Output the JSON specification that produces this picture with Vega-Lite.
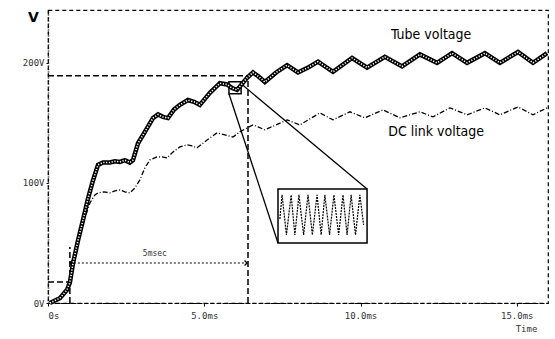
{
  "$schema": "https://vega.github.io/schema/vega-lite/v6.json",
  "width": 500,
  "height": 293,
  "autosize": {"type": "none"},
  "padding": {"left": 48, "top": 10, "right": 7, "bottom": 36},
  "background": "white",
  "config": {
    "view": {"stroke": "black", "strokeDash": [4, 3], "strokeWidth": 1.2},
    "font": "DejaVu Sans Mono"
  },
  "datasets": {
    "tube": [
      {"t": 0.06, "v": 0}, {"t": 0.38, "v": 4}, {"t": 0.61, "v": 11}, {"t": 0.70, "v": 17},
      {"t": 0.80, "v": 33}, {"t": 0.96, "v": 52}, {"t": 1.12, "v": 69}, {"t": 1.28, "v": 87},
      {"t": 1.44, "v": 102}, {"t": 1.60, "v": 115}, {"t": 1.76, "v": 117}, {"t": 1.98, "v": 117},
      {"t": 2.14, "v": 118}, {"t": 2.30, "v": 117.5}, {"t": 2.46, "v": 119}, {"t": 2.62, "v": 117},
      {"t": 2.72, "v": 119}, {"t": 2.88, "v": 133}, {"t": 3.10, "v": 142.5}, {"t": 3.36, "v": 154},
      {"t": 3.52, "v": 157}, {"t": 3.68, "v": 155}, {"t": 3.84, "v": 154}, {"t": 4.03, "v": 161},
      {"t": 4.22, "v": 165}, {"t": 4.48, "v": 169}, {"t": 4.67, "v": 167.5}, {"t": 4.86, "v": 165},
      {"t": 5.02, "v": 170}, {"t": 5.18, "v": 175}, {"t": 5.50, "v": 183}, {"t": 5.73, "v": 182},
      {"t": 5.89, "v": 179}, {"t": 6.05, "v": 177.5}, {"t": 6.21, "v": 182.5}, {"t": 6.37, "v": 187.5},
      {"t": 6.56, "v": 192}, {"t": 6.72, "v": 189}, {"t": 6.94, "v": 184}, {"t": 7.30, "v": 192},
      {"t": 7.65, "v": 198}, {"t": 8.00, "v": 192}, {"t": 8.32, "v": 196}, {"t": 8.64, "v": 201},
      {"t": 9.12, "v": 192.5}, {"t": 9.73, "v": 204}, {"t": 10.21, "v": 196}, {"t": 10.78, "v": 205},
      {"t": 11.33, "v": 197}, {"t": 11.90, "v": 207}, {"t": 12.45, "v": 200}, {"t": 12.93, "v": 208},
      {"t": 13.41, "v": 200}, {"t": 13.98, "v": 208}, {"t": 14.46, "v": 200}, {"t": 15.04, "v": 209},
      {"t": 15.52, "v": 200}, {"t": 15.97, "v": 208}
    ],
    "dc": [
      {"t": 0.06, "v": 0}, {"t": 0.38, "v": 4.2}, {"t": 0.61, "v": 10.8}, {"t": 0.70, "v": 16.7},
      {"t": 0.80, "v": 33.3}, {"t": 0.96, "v": 50}, {"t": 1.15, "v": 68.3}, {"t": 1.34, "v": 83.3},
      {"t": 1.50, "v": 90}, {"t": 1.60, "v": 91.7}, {"t": 1.79, "v": 92.5}, {"t": 1.98, "v": 91.7},
      {"t": 2.14, "v": 93.3}, {"t": 2.30, "v": 94.2}, {"t": 2.46, "v": 92.5}, {"t": 2.62, "v": 91.7},
      {"t": 2.78, "v": 95.8}, {"t": 2.94, "v": 102.5}, {"t": 3.10, "v": 112.5}, {"t": 3.26, "v": 119.2},
      {"t": 3.49, "v": 121.7}, {"t": 3.65, "v": 121.7}, {"t": 3.81, "v": 120.8}, {"t": 4.00, "v": 125.8},
      {"t": 4.22, "v": 130}, {"t": 4.45, "v": 131.7}, {"t": 4.61, "v": 130.8}, {"t": 4.77, "v": 129.2},
      {"t": 5.09, "v": 135.8}, {"t": 5.41, "v": 141.7}, {"t": 5.66, "v": 140}, {"t": 5.92, "v": 138.3},
      {"t": 6.14, "v": 142.5}, {"t": 6.37, "v": 145.8}, {"t": 6.56, "v": 148.3}, {"t": 6.72, "v": 146.7},
      {"t": 6.94, "v": 144.2}, {"t": 7.30, "v": 148.3}, {"t": 7.65, "v": 152.5}, {"t": 8.06, "v": 148.3},
      {"t": 8.38, "v": 153.3}, {"t": 8.70, "v": 158.3}, {"t": 9.12, "v": 152.5}, {"t": 9.66, "v": 159.2},
      {"t": 10.14, "v": 154.2}, {"t": 10.72, "v": 160.8}, {"t": 11.26, "v": 154.2}, {"t": 11.90, "v": 159.2},
      {"t": 12.32, "v": 155}, {"t": 12.86, "v": 162.5}, {"t": 13.41, "v": 156.7}, {"t": 13.98, "v": 162.5},
      {"t": 14.46, "v": 156.7}, {"t": 15.04, "v": 163.3}, {"t": 15.52, "v": 156.7}, {"t": 15.97, "v": 162.5}
    ],
    "inset": [
      {"t": 7.42, "v": 70}, {"t": 7.49, "v": 90}, {"t": 7.63, "v": 56.7}, {"t": 7.78, "v": 90},
      {"t": 7.90, "v": 56.7}, {"t": 8.03, "v": 90}, {"t": 8.18, "v": 56.7}, {"t": 8.32, "v": 90},
      {"t": 8.46, "v": 56.7}, {"t": 8.61, "v": 90}, {"t": 8.74, "v": 56.7}, {"t": 8.86, "v": 90},
      {"t": 9.01, "v": 56.7}, {"t": 9.15, "v": 90}, {"t": 9.30, "v": 56.7}, {"t": 9.44, "v": 90},
      {"t": 9.57, "v": 56.7}, {"t": 9.70, "v": 90}, {"t": 9.84, "v": 56.7}, {"t": 9.98, "v": 90},
      {"t": 10.10, "v": 65}
    ],
    "dashed": [
      {"t": 0, "v": 189.2, "t2": 6.4, "v2": 189.2},
      {"t": 6.4, "v": 0, "t2": 6.4, "v2": 189.2},
      {"t": 0, "v": 17.5, "t2": 0.70, "v2": 17.5},
      {"t": 0.70, "v": 0, "t2": 0.70, "v2": 46.7}
    ],
    "dotted": [
      {"t": 0.70, "v": 33.3, "t2": 6.37, "v2": 33.3}
    ],
    "connectors": [
      {"t": 5.79, "v": 174.2, "t2": 7.36, "v2": 50},
      {"t": 6.18, "v": 182.5, "t2": 10.21, "v2": 95}
    ],
    "boxes": [
      {"t": 5.79, "v": 174.2, "t2": 6.18, "v2": 184.2},
      {"t": 7.36, "v": 50, "t2": 10.21, "v2": 95}
    ],
    "arrowL": [{"t": 0.70, "v": 33.3}],
    "arrowR": [{"t": 6.37, "v": 33.3}],
    "labels": [
      {"t": 12.26, "v": 223, "label": "Tube voltage"},
      {"t": 12.42, "v": 142.5, "label": "DC link voltage"}
    ],
    "note": [{"t": 3.42, "v": 41, "label": "5msec"}]
  },
  "encoding": {
    "x": {
      "field": "t", "type": "quantitative",
      "scale": {"domain": [0, 16], "nice": false, "zero": false},
      "axis": {
        "values": [0, 5, 10, 15],
        "labelExpr": "datum.value == 0 ? '0s' : format(datum.value, '.1f') + 'ms'",
        "grid": false, "domainDash": [4, 2], "domainColor": "black", "domainWidth": 1.2,
        "tickSize": 3, "tickColor": "black", "labelPadding": 5,
        "labelFont": "DejaVu Sans Mono", "labelFontSize": 9, "labelColor": "#333",
        "title": "Time", "titleFont": "DejaVu Sans Mono", "titleFontSize": 9, "titleFontWeight": "normal",
        "titleColor": "#333", "titleX": 478, "titleY": 21, "titleBaseline": "top", "titleAlign": "center"
      }
    },
    "y": {
      "field": "v", "type": "quantitative",
      "scale": {"domain": [0, 244], "nice": false, "zero": false},
      "axis": {
        "values": [0, 100, 200],
        "labelExpr": "datum.value + 'V'",
        "grid": false, "domainDash": [1, 2], "domainColor": "black", "domainWidth": 1.5,
        "tickSize": 2, "tickColor": "black", "labelPadding": 2,
        "labelFont": "DejaVu Sans Mono", "labelFontSize": 9, "labelColor": "#333",
        "title": "V", "titleAngle": 0, "titleFont": "DejaVu Sans", "titleFontSize": 14,
        "titleFontWeight": "bold", "titleColor": "black", "titleX": -15, "titleY": 14, "titleAlign": "center"
      }
    }
  },
  "layer": [
    {"data": {"name": "dashed"}, "mark": {"type": "rule", "color": "black", "strokeWidth": 1.5, "strokeDash": [6, 3]},
     "encoding": {"x2": {"field": "t2"}, "y2": {"field": "v2"}}},
    {"data": {"name": "dotted"}, "mark": {"type": "rule", "color": "black", "strokeWidth": 1.2, "strokeDash": [2, 2]},
     "encoding": {"x2": {"field": "t2"}, "y2": {"field": "v2"}}},
    {"data": {"name": "connectors"}, "mark": {"type": "rule", "color": "black", "strokeWidth": 1.3},
     "encoding": {"x2": {"field": "t2"}, "y2": {"field": "v2"}}},
    {"data": {"name": "boxes"}, "mark": {"type": "rect", "fill": "white", "fillOpacity": 0, "stroke": "black", "strokeWidth": 1.5},
     "encoding": {"x2": {"field": "t2"}, "y2": {"field": "v2"}}},
    {"data": {"name": "arrowL"}, "mark": {"type": "point", "shape": "M1,-1L0,0L1,1", "filled": false, "stroke": "black", "strokeWidth": 1.3, "size": 25, "opacity": 1}, "encoding": {}},
    {"data": {"name": "arrowR"}, "mark": {"type": "point", "shape": "M-1,-1L0,0L-1,1", "filled": false, "stroke": "black", "strokeWidth": 1.3, "size": 25, "opacity": 1}, "encoding": {}},
    {"data": {"name": "inset"}, "mark": {"type": "line", "color": "black", "strokeWidth": 1.2, "strokeDash": [2, 1]}, "encoding": {}},
    {"data": {"name": "dc"}, "mark": {"type": "line", "color": "black", "strokeWidth": 1.3, "strokeDash": [5, 2, 1, 2]}, "encoding": {}},
    {"data": {"name": "tube"}, "mark": {"type": "line", "color": "black", "strokeWidth": 4.5}, "encoding": {}},
    {"data": {"name": "tube"}, "mark": {"type": "line", "color": "white", "strokeWidth": 1.6, "strokeDash": [1.2, 1.6]}, "encoding": {}},
    {"data": {"name": "labels"}, "mark": {"type": "text", "font": "DejaVu Sans Condensed, Liberation Sans, sans-serif", "fontSize": 14, "color": "black", "align": "center", "baseline": "middle"},
     "encoding": {"text": {"field": "label"}}},
    {"data": {"name": "note"}, "mark": {"type": "text", "font": "DejaVu Sans Mono", "fontSize": 8, "color": "#333", "align": "center", "baseline": "middle"},
     "encoding": {"text": {"field": "label"}}}
  ]
}
